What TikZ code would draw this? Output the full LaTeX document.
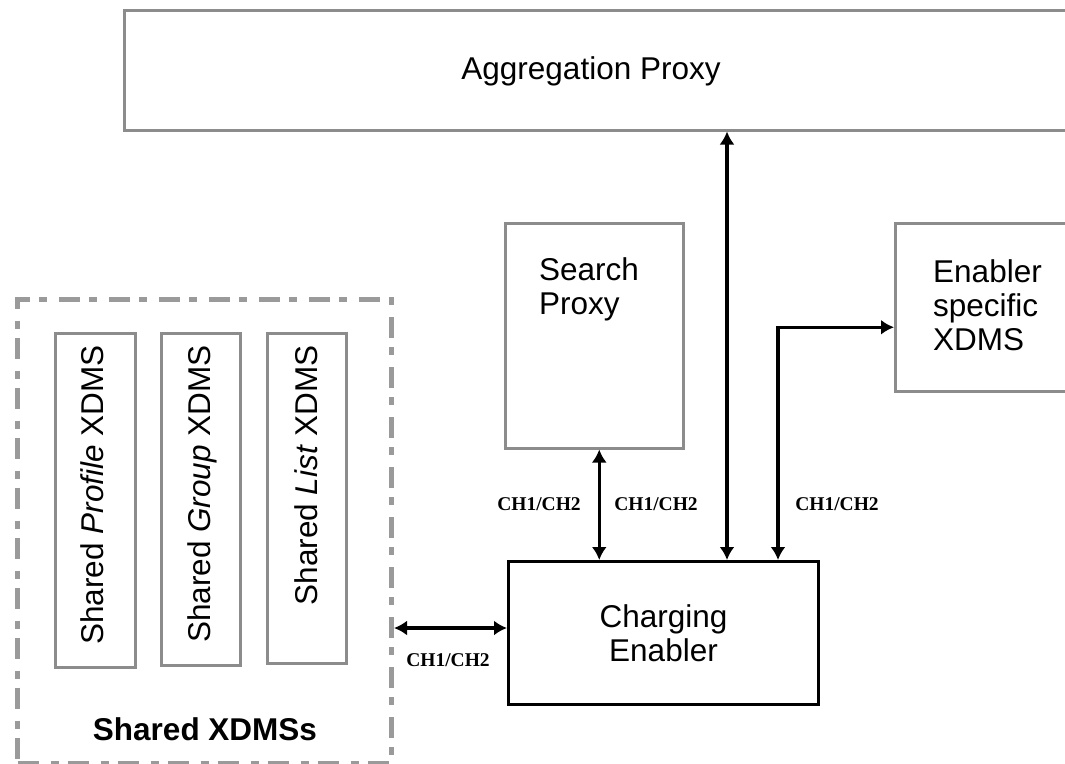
\documentclass[tikz,border=0pt]{standalone}
\usepackage{fontspec}
\setmainfont{Liberation Sans}
\newfontfamily\labfont{Liberation Serif}
\usetikzlibrary{arrows.meta,calc}
\definecolor{boxgray}{HTML}{8C8C8C}
\definecolor{dashgray}{HTML}{9A9A9A}
\begin{document}
\begin{tikzpicture}[x=1pt,y=-1pt,
  graybox/.style={draw=boxgray, line width=2.5pt, rectangle, inner sep=0pt, anchor=north west},
  blackbox/.style={draw=black, line width=3pt, rectangle, inner sep=0pt, anchor=north west, align=center,
    font=\fontsize{31.5}{34}\selectfont},
  dashbox/.style={draw=dashgray, line width=5pt, rectangle, inner sep=0pt, anchor=north west,
    dash pattern=on 21pt off 12pt on 8pt off 9pt},
  txt/.style={inner sep=0pt, font=\fontsize{31.5}{34}\selectfont, align=left},
  boldtxt/.style={inner sep=0pt, font=\fontsize{31.5}{34}\selectfont\bfseries},
  lab/.style={inner sep=0pt, font=\labfont\bfseries\fontsize{19.5}{22}\selectfont},
  conn/.style={draw=black, line width=3.5pt, {Latex[length=13pt,width=15pt]}-{Latex[length=13pt,width=15pt]}},
]
\useasboundingbox (0,0) rectangle (1065,763);
\clip (0,0) rectangle (1065,763);
\fill[white] (0,0) rectangle (1065,763);

% Aggregation Proxy
\node[graybox, minimum width=990pt, minimum height=120pt] (agg) at (123,9) {};
\node[txt, anchor=base] (aggt) at (591,79) {Aggregation Proxy};

% Search Proxy
\node[graybox, minimum width=178pt, minimum height=225pt] (search) at (504,222) {};
\node[txt, anchor=north west] (searcht) at (539,257) {Search\\Proxy};

% Enabler specific XDMS
\node[graybox, minimum width=200pt, minimum height=168pt] (enab) at (894,222) {};
\node[txt, anchor=north west] (enabt) at (933,259) {Enabler\\specific\\XDMS};

% Charging Enabler
\node[blackbox, minimum width=310pt, minimum height=143pt] (charge) at (507,560) {Charging\\Enabler};

% Shared XDMSs group
\node[dashbox, minimum width=374pt, minimum height=464pt] (shared) at (15,297) {};
\node[graybox, minimum width=80pt, minimum height=334pt] (prof) at (54,332) {};
\node[graybox, minimum width=79pt, minimum height=332pt] (group) at (160,332) {};
\node[graybox, minimum width=79pt, minimum height=330pt] (list) at (266,332) {};
\node[txt, rotate=90, anchor=base east] (proft) at (103,345) {Shared \textit{Profile} XDMS};
\node[txt, rotate=90, anchor=base east] (groupt) at (210,345) {Shared \textit{Group} XDMS};
\node[txt, rotate=90, anchor=base east] (listt) at (317,345) {Shared \textit{List} XDMS};
\node[boldtxt, anchor=base] (sharedt) at (205,740) {Shared XDMSs};

% Connectors
\coordinate (ax) at (727,0);
\coordinate (ex) at (778,0);
\draw[conn] ([xshift=5pt]search.south) -- ([xshift=5pt]search.south |- charge.north);
\draw[conn] (agg.south -| ax) -- (charge.north -| ax);
\draw[conn] (charge.north -| ex) |- ([yshift=-20pt]enab.west);
\draw[conn] ([yshift=5pt]charge.west) -- ([yshift=5pt]charge.west -| shared.east);

% Labels
\node[lab] (l1) at (539,504) {CH1/CH2};
\node[lab] (l2) at (656,504) {CH1/CH2};
\node[lab] (l3) at (837,504) {CH1/CH2};
\node[lab] (l4) at (448,660) {CH1/CH2};
\end{tikzpicture}
\end{document}
